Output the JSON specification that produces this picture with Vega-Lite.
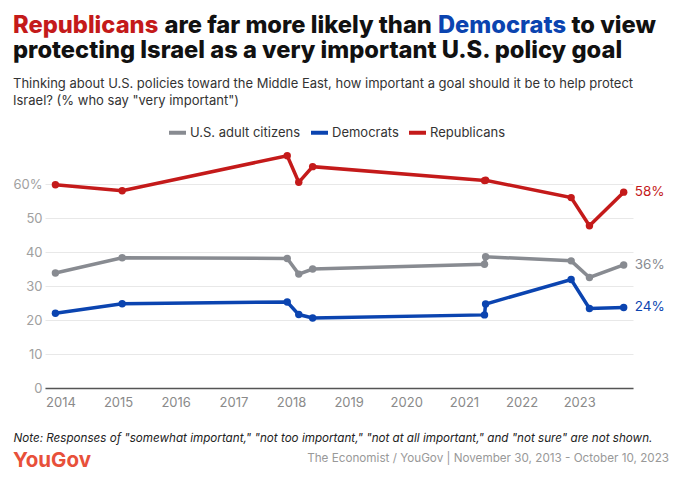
{
  "$schema": "https://vega.github.io/schema/vega-lite/v6.json",
  "background": "white",
  "padding": {"left": 12, "top": 14, "right": 0, "bottom": 0},
  "spacing": 0,
  "config": {
    "view": {"stroke": null},
    "font": "Inter",
    "title": {"font": "Inter", "fontSize": 23.7, "fontWeight": 800, "color": "#111111", "anchor": "start", "offset": 0, "baseline": "alphabetic", "frame": "group"}
  },
  "vconcat": [
    {
      "spacing": 5.5,
      "hconcat": [
        {"width": 1, "height": 1, "data": {"values": []}, "mark": "point", "title": {"text": "Republicans", "color": "#c41a1a", "dx": -32, "offset": -10}},
        {"width": 1, "height": 1, "data": {"values": []}, "mark": "point", "title": {"text": "are far more likely than", "dx": -32, "offset": -10}},
        {"width": 1, "height": 1, "data": {"values": []}, "mark": "point", "title": {"text": "Democrats", "color": "#0b44b0", "dx": -32, "offset": -10}},
        {"width": 1, "height": 1, "data": {"values": []}, "mark": "point", "title": {"text": "to view", "dx": -32, "offset": -10}}
      ]
    },
    {
      "width": 588,
      "height": 238,
      "title": {
        "text": "protecting Israel as a very important U.S. policy goal",
        "subtitle": ["Thinking about U.S. policies toward the Middle East, how important a goal should it be to help protect", "Israel? (% who say \"very important\")"],
        "frame": "group",
        "anchor": "start",
        "dx": -32,
        "offset": 41,
        "subtitleFont": "Inter",
        "subtitleFontSize": 13,
        "subtitleFontWeight": 400,
        "subtitleColor": "#333333",
        "subtitlePadding": 15.5,
        "subtitleLineHeight": 16.7
      },
      "data": {
        "values": [
          {"date": "2013-11-30", "group": "U.S. adult citizens", "value": 33.8},
          {"date": "2015-01-27", "group": "U.S. adult citizens", "value": 38.3},
          {"date": "2017-12-08", "group": "U.S. adult citizens", "value": 38.1},
          {"date": "2018-02-19", "group": "U.S. adult citizens", "value": 33.5},
          {"date": "2018-05-18", "group": "U.S. adult citizens", "value": 35.0},
          {"date": "2021-05-11", "group": "U.S. adult citizens", "value": 36.4},
          {"date": "2021-05-18", "group": "U.S. adult citizens", "value": 38.6},
          {"date": "2022-11-11", "group": "U.S. adult citizens", "value": 37.4},
          {"date": "2023-03-07", "group": "U.S. adult citizens", "value": 32.5},
          {"date": "2023-10-10", "group": "U.S. adult citizens", "value": 36.2, "label": "36%"},
          {"date": "2013-11-30", "group": "Democrats", "value": 22.0},
          {"date": "2015-01-27", "group": "Democrats", "value": 24.8},
          {"date": "2017-12-08", "group": "Democrats", "value": 25.3},
          {"date": "2018-02-19", "group": "Democrats", "value": 21.6},
          {"date": "2018-05-18", "group": "Democrats", "value": 20.6},
          {"date": "2021-05-11", "group": "Democrats", "value": 21.5},
          {"date": "2021-05-18", "group": "Democrats", "value": 24.7},
          {"date": "2022-11-11", "group": "Democrats", "value": 31.9},
          {"date": "2023-03-07", "group": "Democrats", "value": 23.4},
          {"date": "2023-10-10", "group": "Democrats", "value": 23.7, "label": "24%"},
          {"date": "2013-11-30", "group": "Republicans", "value": 59.8},
          {"date": "2015-01-27", "group": "Republicans", "value": 58.0},
          {"date": "2017-12-08", "group": "Republicans", "value": 68.3},
          {"date": "2018-02-19", "group": "Republicans", "value": 60.5},
          {"date": "2018-05-18", "group": "Republicans", "value": 65.1},
          {"date": "2021-05-11", "group": "Republicans", "value": 61.0},
          {"date": "2021-05-18", "group": "Republicans", "value": 61.1},
          {"date": "2022-11-11", "group": "Republicans", "value": 56.0},
          {"date": "2023-03-07", "group": "Republicans", "value": 47.7},
          {"date": "2023-10-10", "group": "Republicans", "value": 57.6, "label": "58%"}
        ]
      },
      "encoding": {
        "x": {
          "field": "date", "type": "temporal",
          "scale": {"domain": ["2013-09-25", "2023-12-08"], "nice": false},
          "axis": {
            "format": "%Y", "tickCount": {"interval": "year", "step": 1},
            "labelColor": "#8a8a8a", "labelFontSize": 13, "labelFont": "Inter", "labelPadding": 8,
            "ticks": false, "grid": false, "domainColor": "#555555", "domainWidth": 1.5,
            "title": "Note: Responses of \"somewhat important,\" \"not too important,\" \"not at all important,\" and \"not sure\" are not shown.",
            "titleFont": "Inter", "titleFontStyle": "italic", "titleFontWeight": 400, "titleFontSize": 11.65, "titleColor": "#222222",
            "titleAnchor": "start", "titleAlign": "left", "titleBaseline": "alphabetic", "titleX": -32, "titleY": 53.5
          }
        },
        "y": {
          "field": "value", "type": "quantitative",
          "scale": {"domain": [0, 70], "nice": false},
          "axis": {
            "values": [0, 10, 20, 30, 40, 50, 60],
            "labelExpr": "datum.value == 60 ? '60%' : datum.label",
            "domain": false, "ticks": false, "grid": true, "gridColor": "#e8e8e8",
            "labelColor": "#a0a0a0", "labelFontSize": 13, "labelFont": "Inter", "labelPadding": 3, "title": null
          }
        }
      },
      "layer": [
        {
          "mark": {"type": "line", "strokeWidth": 3.5},
          "encoding": {
            "color": {
              "field": "group", "type": "nominal",
              "scale": {"domain": ["U.S. adult citizens", "Democrats", "Republicans"], "range": ["#888b91", "#0b44b0", "#c41a1a"]},
              "legend": {
                "title": null, "orient": "none", "direction": "horizontal", "legendX": 122, "legendY": 94,
                "symbolType": "stroke", "symbolSize": 289, "symbolStrokeWidth": 4,
                "labelFont": "Inter", "labelFontSize": 13, "labelColor": "#333333", "labelOffset": 2, "columnPadding": 2
              }
            }
          }
        },
        {
          "mark": {"type": "point", "filled": true, "size": 55, "opacity": 1},
          "encoding": {"color": {"field": "group", "type": "nominal", "legend": null}}
        },
        {
          "transform": [{"filter": "datum.label != null"}],
          "mark": {"type": "text", "align": "left", "baseline": "middle", "dx": 11, "fontSize": 13.5, "font": "Inter"},
          "encoding": {"text": {"field": "label"}, "color": {"field": "group", "type": "nominal", "legend": null}}
        }
      ]
    },
    {
      "spacing": 0,
      "hconcat": [
        {"width": 1, "height": 1, "data": {"values": []}, "mark": "point", "title": {"text": "YouGov", "orient": "bottom", "color": "#e8503a", "fontSize": 20.5, "fontWeight": 700, "offset": 5, "dx": -32}},
        {"width": 578, "height": 1, "data": {"values": []}, "mark": "point", "title": {"text": "The Economist / YouGov | November 30, 2013 - October 10, 2023", "orient": "bottom", "anchor": "end", "fontSize": 11.7, "fontWeight": 400, "color": "#999999", "offset": 7}}
      ]
    }
  ]
}
